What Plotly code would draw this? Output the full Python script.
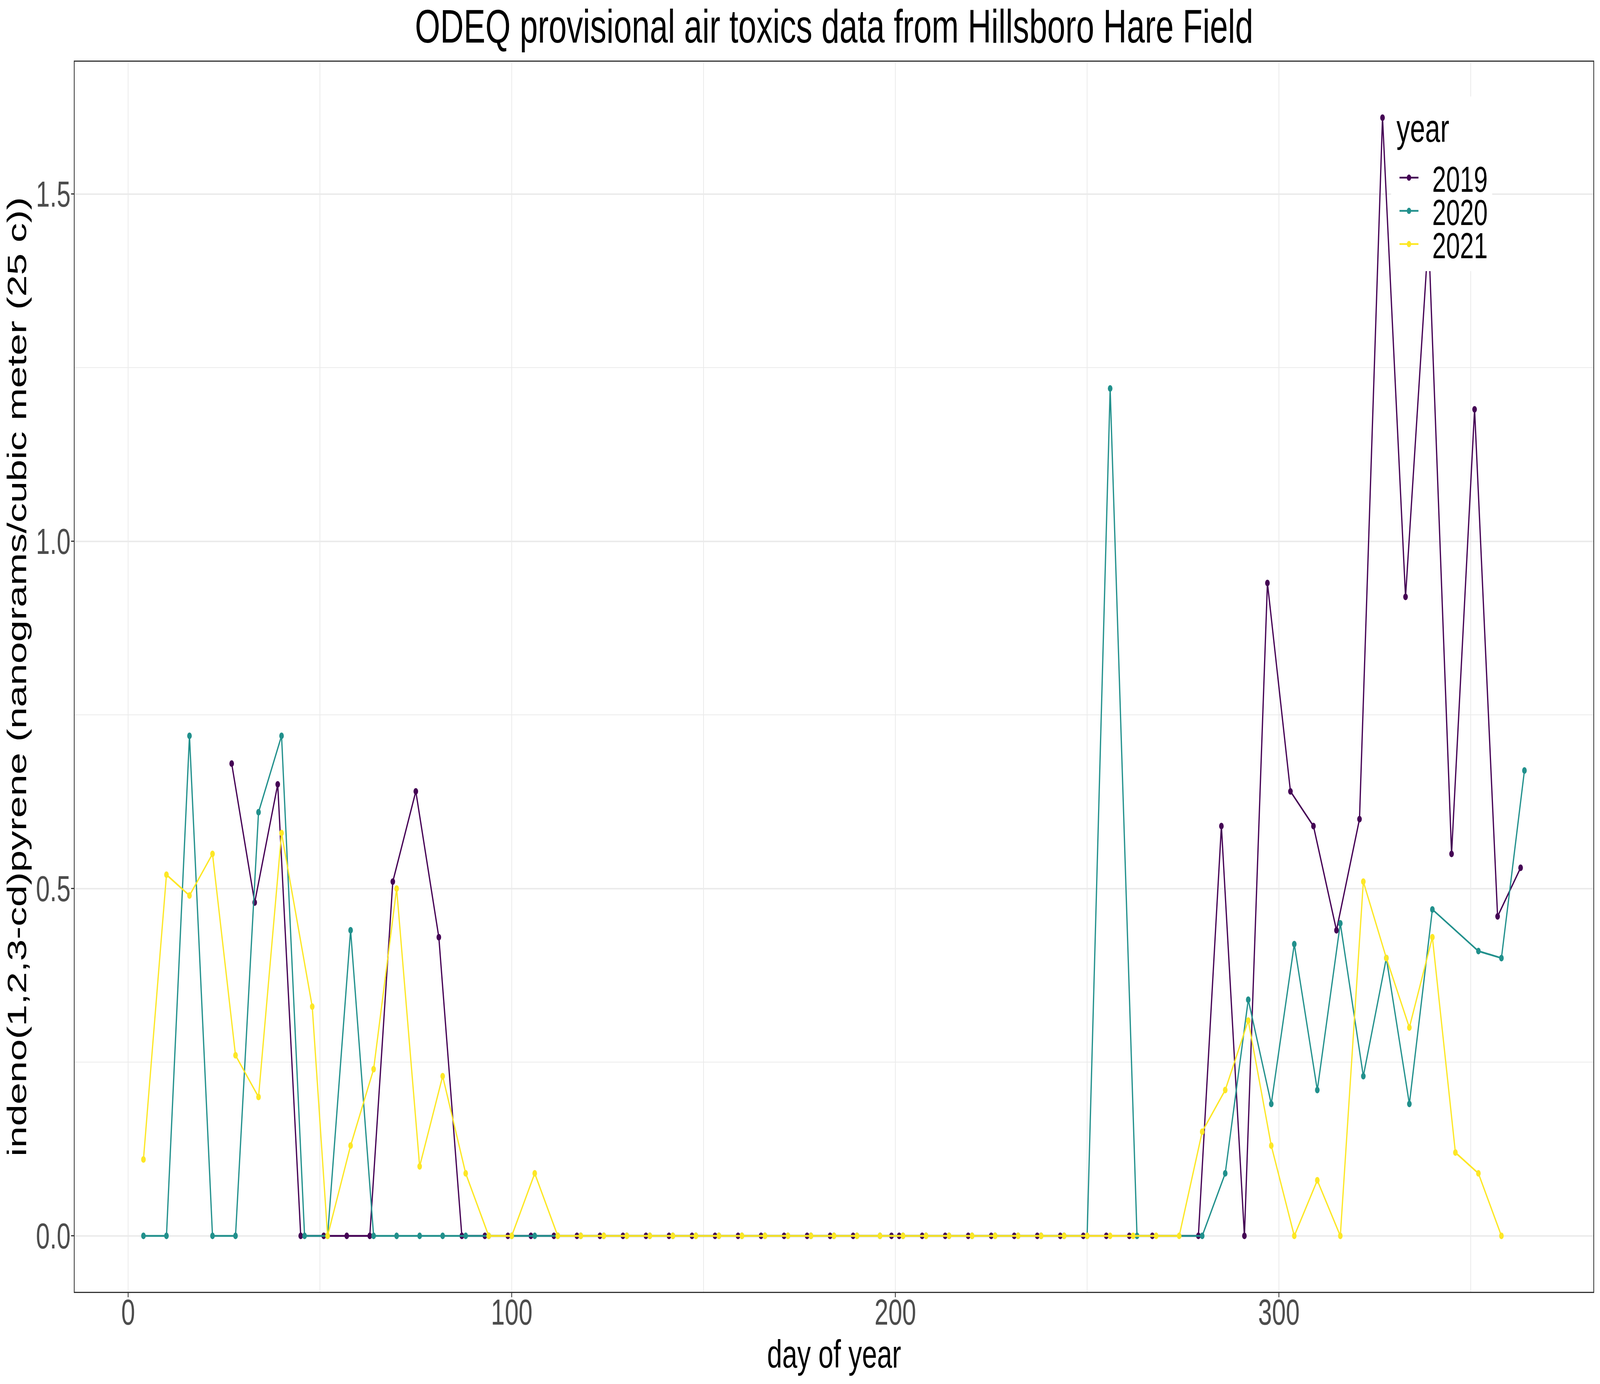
import plotly.graph_objects as go

## Datos (dia del año, ng/m3)
day_2019 = [27, 33, 39, 45, 51, 57, 63, 69, 75, 81, 87, 93, 99, 105, 111, 117, 123, 129, 135, 141,
            147, 153, 159, 165, 171, 177, 183, 189, 199, 201, 207, 213, 219, 225, 231, 237, 243, 249,
            255, 261, 267, 279, 285, 291, 297, 303, 309, 315, 321, 327, 333, 339, 345, 351, 357, 363]
val_2019 = [0.68, 0.48, 0.65, 0, 0, 0, 0, 0.51, 0.64, 0.43, 0, 0, 0, 0, 0, 0, 0, 0, 0, 0,
            0, 0, 0, 0, 0, 0, 0, 0, 0, 0, 0, 0, 0, 0, 0, 0, 0, 0,
            0, 0, 0, 0, 0.59, 0, 0.94, 0.64, 0.59, 0.44, 0.60, 1.61, 0.92, 1.44, 0.55, 1.19, 0.46, 0.53]

day_2020 = [4, 10, 16, 22, 28, 34, 40, 46, 52, 58, 64, 70, 76, 82, 88, 94, 100, 106, 112, 118,
            124, 130, 136, 142, 148, 154, 160, 166, 172, 178, 184, 190, 196, 202, 208, 214, 220,
            226, 232, 238, 244, 250, 256, 263, 280, 286, 292, 298, 304, 310, 316, 322, 328, 334,
            340, 352, 358, 364]
val_2020 = [0, 0, 0.72, 0, 0, 0.61, 0.72, 0, 0, 0.44, 0, 0, 0, 0, 0, 0, 0, 0, 0, 0,
            0, 0, 0, 0, 0, 0, 0, 0, 0, 0, 0, 0, 0, 0, 0, 0, 0,
            0, 0, 0, 0, 0, 1.22, 0, 0, 0.09, 0.34, 0.19, 0.42, 0.21, 0.45, 0.23, 0.40, 0.19,
            0.47, 0.41, 0.40, 0.67]

day_2021 = [4, 10, 16, 22, 28, 34, 40, 48, 52, 58, 64, 70, 76, 82, 88, 94, 100, 106, 112, 118,
            124, 130, 136, 142, 148, 154, 160, 166, 172, 178, 184, 190, 196, 202, 208, 214, 220,
            226, 232, 238, 244, 250, 256, 262, 268, 274, 280, 286, 292, 298, 304, 310, 316, 322,
            328, 334, 340, 346, 352, 358]
val_2021 = [0.11, 0.52, 0.49, 0.55, 0.26, 0.20, 0.58, 0.33, 0, 0.13, 0.24, 0.50, 0.10, 0.23, 0.09, 0, 0, 0.09, 0, 0,
            0, 0, 0, 0, 0, 0, 0, 0, 0, 0, 0, 0, 0, 0, 0, 0, 0,
            0, 0, 0, 0, 0, 0, 0, 0, 0, 0.15, 0.21, 0.31, 0.13, 0, 0.08, 0, 0.51,
            0.40, 0.30, 0.43, 0.12, 0.09, 0]

years = ["2019", "2020", "2021"]
colores = ["#440154", "#21908C", "#FDE725"]
leyendas = ["legend", "legend2", "legend3"]

fuente = "Liberation Sans, Arial, sans-serif"
W, H = 5905, 3543
M_L, M_R, M_T, M_B = 276, 24, 158, 236

def py(y_px):
    # posicion vertical en coordenadas del papel a partir de pixeles desde arriba
    return (H - M_B - y_px) / (H - M_B - M_T)

def px(x_px):
    return (x_px - M_L) / (W - M_L - M_R)

## Grafico
fig = go.Figure()
for nombre, dias, valores, color, ley in zip(years, [day_2019, day_2020, day_2021],
                                             [val_2019, val_2020, val_2021], colores, leyendas):
    fig.add_trace(go.Scatter(x = dias, y = valores,
                             mode = "lines+markers",
                             name = "\u2002" + nombre,
                             legend = ley,
                             line = dict(color = color, width = 4.6),
                             marker = dict(color = color, size = 17)
    ))

ejes = dict(showgrid = True, gridcolor = "#EBEBEB", gridwidth = 4,
            zeroline = False, showline = True, mirror = True,
            linecolor = "#333333", linewidth = 3,
            ticks = "outside", ticklen = 11, tickwidth = 3, tickcolor = "#333333",
            tickfont = dict(family = fuente, size = 92, color = "#4D4D4D"),
            automargin = False)

fig.update_xaxes(range = [-13.9, 382], tickvals = [0, 100, 200, 300],
                 ticklabelstandoff = -40,
                 minor = dict(tickvals = [50, 150, 250, 350], showgrid = True,
                              gridcolor = "#EBEBEB", gridwidth = 2, ticks = ""),
                 title = dict(text = "day of year", standoff = 20,
                              font = dict(family = fuente, size = 100, color = "black")),
                 **ejes)
fig.update_yaxes(range = [-0.0805, 1.6905], tickvals = [0, 0.5, 1.0, 1.5],
                 ticktext = ["0.0", "0.5", "1.0", "1.5"],
                 ticklabelstandoff = -17,
                 minor = dict(tickvals = [0.25, 0.75, 1.25], showgrid = True,
                              gridcolor = "#EBEBEB", gridwidth = 2, ticks = ""),
                 title = dict(text = "indeno(1,2,3-cd)pyrene (nanograms/cubic meter (25 c))", standoff = 2,
                              font = dict(family = fuente, size = 100, color = "black")),
                 **ejes)

ley_base = dict(font = dict(family = fuente, size = 92, color = "black"),
                x = px(5160), xanchor = "left", bgcolor = "rgba(0,0,0,0)", itemwidth = 70)

fig.update_layout(width = W, height = H,
                  margin = dict(l = M_L, r = M_R, t = M_T, b = M_B),
                  paper_bgcolor = "white", plot_bgcolor = "white",
                  showlegend = True,
                  title = dict(text = "ODEQ provisional air toxics data from Hillsboro Hare Field",
                               x = 0.5213, xanchor = "center", y = 0.9810, yanchor = "middle",
                               font = dict(family = fuente, size = 120, color = "black")),
                  legend = dict(y = py(455), yanchor = "middle", **ley_base),
                  legend2 = dict(y = py(540), yanchor = "middle", **ley_base),
                  legend3 = dict(y = py(625), yanchor = "middle", **ley_base),
                  font = dict(family = fuente)
                  )

# fondo blanco de la leyenda (tapa las lineas como en ggplot) y titulo de la leyenda
fig.add_shape(type = "rect", xref = "paper", yref = "paper",
              x0 = px(5134), x1 = px(5507), y0 = py(694), y1 = py(247),
              fillcolor = "white", line = dict(width = 0), layer = "above")
fig.add_annotation(text = "year", xref = "paper", yref = "paper",
                   x = px(5152), xanchor = "left", y = py(328), yanchor = "middle",
                   showarrow = False, font = dict(family = fuente, size = 100, color = "black"))

# ajustar la figura a la ventana del navegador
ajuste = """
var gd = document.getElementById('{plot_id}');
document.documentElement.style.margin = '0'; document.body.style.margin = '0';
document.documentElement.style.overflow = 'hidden'; document.body.style.overflow = 'hidden';
var w = window.innerWidth, h = window.innerHeight;
gd.style.transformOrigin = '0 0';
gd.style.transform = 'scale(' + (w / %d) + ',' + (h / %d) + ')';
gd.parentElement.style.width = w + 'px';
gd.parentElement.style.height = h + 'px';
gd.parentElement.style.overflow = 'hidden';
""" % (W, H)

fig.write_html("out.html", post_script = ajuste, config = dict(displayModeBar = False))
